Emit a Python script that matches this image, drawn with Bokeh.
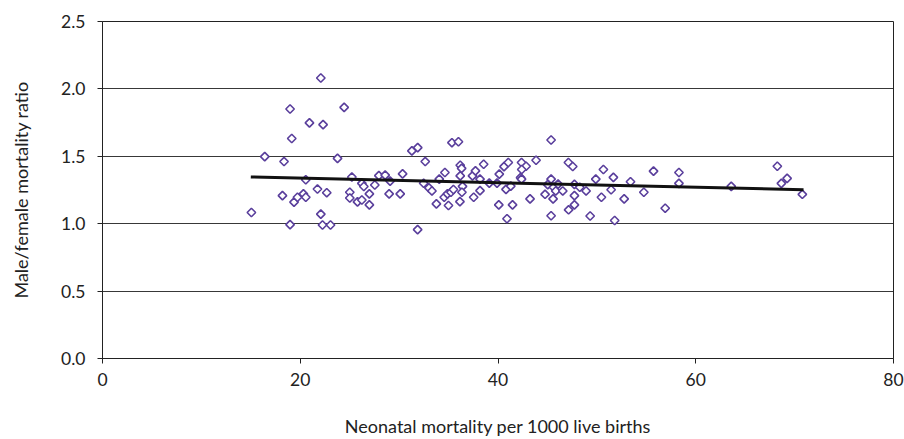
import math
from bokeh.plotting import figure
from bokeh.models import Range1d, FixedTicker, ColumnDataSource
from bokeh.embed import file_html
from bokeh.resources import INLINE

# Neonatal mortality per 1000 live births
neonatal = [15.06, 16.41, 18.36, 18.20, 18.97, 19.14, 18.97, 19.37, 19.72, 20.32,
            20.56, 20.56, 20.93, 21.74, 22.08, 22.08, 22.25, 22.31, 22.68, 23.06,
            23.77, 24.44, 25.22, 25.01, 25.01, 25.79, 26.23, 26.43, 26.23, 26.99,
            26.99, 27.54, 27.95, 28.59, 29.09, 28.99, 30.11, 30.35, 31.29, 31.88,
            32.64, 32.48, 33.01, 33.32, 31.87, 33.77, 34.06, 34.63, 34.56, 34.89,
            35.24, 35.49, 34.99, 35.34, 36.00, 36.18, 36.32, 36.18, 36.41, 36.35,
            36.15, 37.42, 37.72, 38.18, 38.55, 37.54, 38.18, 39.12, 39.90, 40.13,
            40.61, 41.04, 40.81, 41.29, 40.08, 41.47, 40.91, 42.38, 42.84, 42.40,
            42.28, 42.38, 43.24, 43.85, 45.37, 45.37, 45.03, 45.62, 46.08, 44.76,
            45.84, 46.55, 45.57, 45.37, 47.12, 47.56, 47.73, 48.27, 48.91, 47.73,
            47.73, 47.14, 49.32, 49.89, 50.66, 51.67, 51.44, 50.46, 51.80, 52.76,
            53.40, 55.73, 54.75, 56.91, 58.30, 58.30, 63.59, 68.25, 68.66, 69.24,
            70.78]

# Male/female mortality ratio
ratio = [1.083, 1.498, 1.461, 1.208, 1.851, 1.632, 0.993, 1.160, 1.196, 1.221,
         1.196, 1.326, 1.748, 1.257, 2.081, 1.071, 0.990, 1.735, 1.230, 0.990,
         1.485, 1.863, 1.346, 1.233, 1.191, 1.162, 1.299, 1.276, 1.176, 1.221,
         1.140, 1.287, 1.357, 1.360, 1.316, 1.221, 1.221, 1.370, 1.540, 1.564,
         1.461, 1.300, 1.266, 1.243, 0.956, 1.147, 1.331, 1.380, 1.196, 1.221,
         1.233, 1.254, 1.135, 1.601, 1.608, 1.434, 1.410, 1.355, 1.277, 1.233,
         1.164, 1.355, 1.392, 1.331, 1.441, 1.196, 1.245, 1.301, 1.301, 1.368,
         1.423, 1.454, 1.255, 1.279, 1.140, 1.140, 1.037, 1.454, 1.426, 1.402,
         1.342, 1.331, 1.184, 1.471, 1.621, 1.331, 1.290, 1.270, 1.294, 1.218,
         1.243, 1.243, 1.184, 1.059, 1.454, 1.424, 1.292, 1.270, 1.243, 1.208,
         1.140, 1.103, 1.057, 1.331, 1.402, 1.344, 1.252, 1.196, 1.024, 1.184,
         1.311, 1.390, 1.233, 1.115, 1.380, 1.299, 1.277, 1.426, 1.299, 1.336,
         1.218]

# Linear trend line end points
trend_x = [15.0, 70.9]
trend_y = [1.347, 1.252]

x_ticks = [0, 20, 40, 60, 80]
y_ticks = [0.0, 0.5, 1.0, 1.5, 2.0, 2.5]

FONT = "Lato"
TXT = "#222222"

p = figure(width=904, height=439, output_backend="svg", toolbar_location=None,
           x_range=Range1d(0, 80), y_range=Range1d(0, 2.5),
           min_border_left=102, min_border_right=11, min_border_top=21,
           min_border_bottom=78)
p.outline_line_color = "#222222"
p.outline_line_width = 1
p.background_fill_color = "white"
p.border_fill_color = "white"

p.xgrid.grid_line_color = None
p.ygrid.grid_line_color = "#222222"
p.ygrid.grid_line_width = 1
p.ygrid.grid_line_alpha = 0.9

p.xaxis.ticker = FixedTicker(ticks=x_ticks)
p.yaxis.ticker = FixedTicker(ticks=y_ticks)
p.yaxis.major_label_overrides = {t: f"{t:.1f}" for t in y_ticks}

for ax in (p.xaxis, p.yaxis):
    ax.axis_line_color = "#222222"
    ax.major_tick_line_color = "#222222"
    ax.minor_tick_line_color = None
    ax.major_tick_in = 0
    ax.major_tick_out = 5
    ax.major_label_text_font = FONT
    ax.major_label_text_font_size = "17.5px"
    ax.major_label_text_color = TXT
    ax.axis_label_text_font = FONT
    ax.axis_label_text_font_size = "18px"
    ax.axis_label_text_font_style = "normal"
    ax.axis_label_text_color = TXT

p.xaxis.major_label_standoff = 9
p.yaxis.major_label_standoff = 12
p.xaxis.axis_label = "Neonatal mortality per 1000 live births"
p.yaxis.axis_label = "Male/female mortality ratio"
p.xaxis.axis_label_standoff = 26
p.yaxis.axis_label_standoff = 26

src = ColumnDataSource(data=dict(x=neonatal, y=ratio))
p.scatter("x", "y", source=src, marker="square", size=6, angle=math.pi / 4,
          line_color="#5a3f9c", line_width=1.6, fill_color="white")

p.line(trend_x, trend_y, line_color="#111111", line_width=3)

open("out.html", "w").write(file_html(p, INLINE))
